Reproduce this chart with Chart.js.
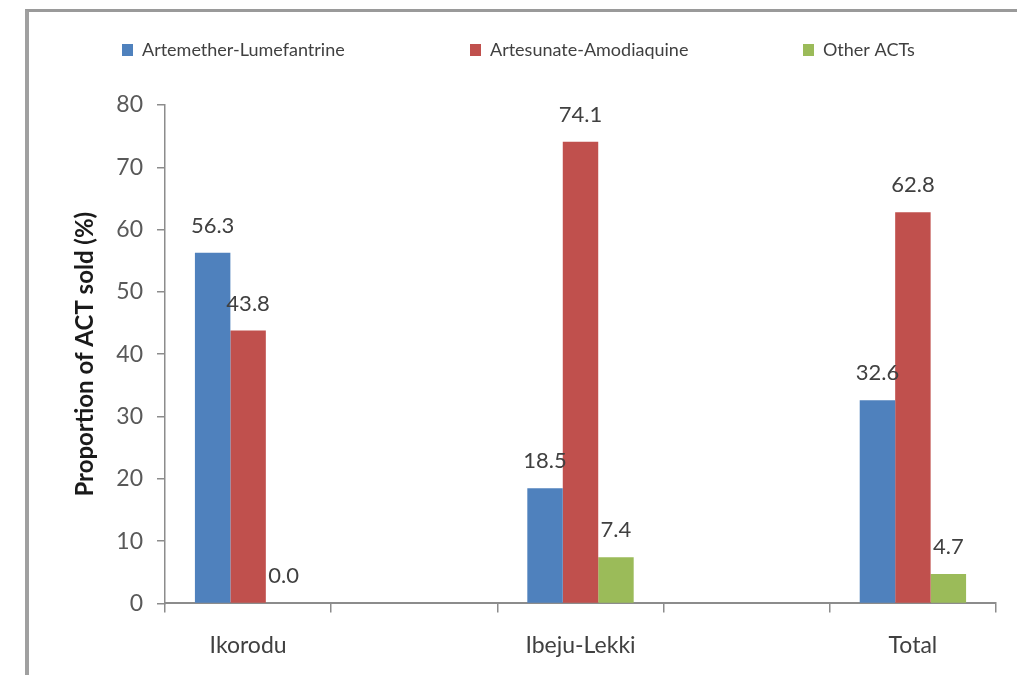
<!DOCTYPE html>
<html>
<head>
<meta charset="utf-8">
<title>Proportion of ACT sold</title>
<script src="https://cdn.jsdelivr.net/npm/chart.js@4/dist/chart.umd.min.js"></script>
<style>
  html, body { margin: 0; padding: 0; background: #ffffff; }
  #wrap { position: relative; width: 1017px; height: 675px; overflow: hidden; }
  #frame { position: absolute; left: 25px; top: 9px; right: -10px; bottom: -10px;
           border-top: 3px solid #9a9a9a; border-left: 4px solid #a0a0a0; }
  canvas { position: absolute; left: 0; top: 0; }
</style>
</head>
<body>
<div id="wrap">
  <div id="frame"></div>
  <canvas id="chart" width="1017" height="675"></canvas>
</div>
<script>
// Districts (blank slots keep the wide spacing between groups)
const categories = ['Ikorodu', '', 'Ibeju-Lekki', '', 'Total'];
const seriesNames = ['Artemether-Lumefantrine', 'Artesunate-Amodiaquine', 'Other ACTs'];
const artemetherLumefantrine = [56.3, null, 18.5, null, 32.6];
const artesunateAmodiaquine = [43.8, null, 74.1, null, 62.8];
const otherACTs = [0.0, null, 7.4, null, 4.7];
const yTicks = [0, 10, 20, 30, 40, 50, 60, 70, 80];

const colors = ['#4f81bd', '#c0504d', '#9bbb59'];
const FONT = 'Lato, "Open Sans", sans-serif';
const axisGray = '#8c8c8c';

// Value labels above each bar
const valueLabels = {
  id: 'valueLabels',
  afterDatasetsDraw(chart) {
    const ctx = chart.ctx;
    ctx.save();
    ctx.font = '22px ' + FONT;
    ctx.fillStyle = '#404040';
    ctx.textAlign = 'center';
    ctx.textBaseline = 'middle';
    chart.data.datasets.forEach((ds, di) => {
      const meta = chart.getDatasetMeta(di);
      meta.data.forEach((bar, i) => {
        const v = ds.data[i];
        if (v === null || v === undefined) return;
        ctx.fillText(v.toFixed(1), bar.x, bar.y - 27);
      });
    });
    ctx.restore();
  }
};

// Legend row across the top
const topLegend = {
  id: 'topLegend',
  afterDraw(chart) {
    const ctx = chart.ctx;
    const starts = [122, 470, 803];
    ctx.save();
    ctx.font = '18px ' + FONT;
    ctx.textBaseline = 'middle';
    ctx.textAlign = 'left';
    chart.data.datasets.forEach((ds, i) => {
      const x = starts[i];
      const y = 50;
      ctx.fillStyle = ds.backgroundColor;
      ctx.fillRect(x, y - 6, 11, 12);
      ctx.fillStyle = '#404040';
      ctx.fillText(ds.label, x + 20, y);
    });
    ctx.restore();
  }
};

const chart = new Chart(document.getElementById('chart'), {
  type: 'bar',
  data: {
    labels: categories,
    datasets: [
      { label: seriesNames[0], data: artemetherLumefantrine, backgroundColor: colors[0] },
      { label: seriesNames[1], data: artesunateAmodiaquine, backgroundColor: colors[1] },
      { label: seriesNames[2], data: otherACTs, backgroundColor: colors[2] }
    ]
  },
  options: {
    responsive: false,
    animation: false,
    devicePixelRatio: 1,
    layout: { padding: { left: 67, right: 21, top: 105, bottom: -3 } },
    datasets: { bar: { categoryPercentage: 0.64, barPercentage: 1.0, skipNull: false } },
    plugins: {
      legend: { display: false },
      tooltip: { enabled: false }
    },
    scales: {
      x: {
        offset: true,
        grid: { display: true, drawOnChartArea: false, offset: true, tickLength: 9, color: axisGray, lineWidth: 1.5 },
        border: { display: true, color: axisGray, width: 2 },
        ticks: { font: { family: FONT, size: 23 }, color: '#404040', padding: 19, autoSkip: false, maxRotation: 0 }
      },
      y: {
        min: 0, max: 80,
        afterBuildTicks(scale) { scale.ticks = yTicks.map(v => ({ value: v })); },
        afterFit(scale) { scale.width = 98; },
        grid: { display: true, drawOnChartArea: false, tickLength: 8, color: axisGray, lineWidth: 1.5 },
        border: { display: true, color: axisGray, width: 1.5 },
        ticks: { font: { family: FONT, size: 23 }, color: '#595959', padding: 14 },
        title: {
          display: true,
          text: 'Proportion of ACT sold (%)',
          font: { family: FONT, size: 24, weight: 'bold' },
          color: '#1a1a1a'
        }
      }
    }
  },
  plugins: [valueLabels, topLegend]
});
</script>
</body>
</html>
